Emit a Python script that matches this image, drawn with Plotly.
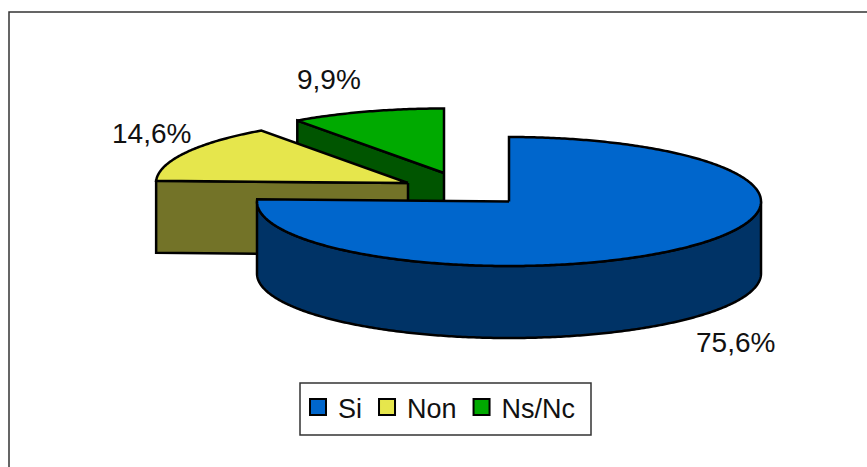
import numpy as np
import plotly.graph_objects as go

categories = ["Si", "Non", "Ns/Nc"]
values = [75.6, 14.6, 9.9]
value_labels = ["75,6%", "14,6%", "9,9%"]

top_colors = ["#0066CC", "#E6E64C", "#00AA00"]
side_colors = ["#003366", "#737328", "#005500"]
apexes = [(509, 201.5), (408, 183), (444, 173)]   # exploded slice apex, px
label_pos = [(735, 342), (151, 133), (329, 79)]
has_cut_face = [False, True, True]
RX, RY, DEPTH = 252, 64.5, 72
FONT = "Liberation Sans, Arial, sans-serif"

fractions = np.array(values) / sum(values)
ends = np.cumsum(fractions) * 2 * np.pi
starts = np.concatenate([[0], ends[:-1]])


def rim(apex, a0, a1):
    t = np.linspace(a0, a1, max(3, int((a1 - a0) * 90)))
    return apex[0] + RX * np.sin(t), apex[1] - RY * np.cos(t)


def poly(x, y, color):
    return go.Scatter(x=list(x) + [x[0]], y=list(y) + [y[0]], mode="lines", fill="toself",
                      fillcolor=color, line=dict(color="black", width=2.5, simplify=False),
                      hoverinfo="skip", showlegend=False)


fig = go.Figure()
# painted back to front: smallest slice first
for i in [2, 1, 0]:
    apex, a0, a1 = apexes[i], starts[i], ends[i]
    if has_cut_face[i]:
        ex = apex[0] + RX * np.sin(a0)
        ey = apex[1] - RY * np.cos(a0)
        fig.add_trace(poly([apex[0], ex, ex, apex[0]],
                           [apex[1], ey, ey + DEPTH, apex[1] + DEPTH], side_colors[i]))
    w0, w1 = max(a0, np.pi / 2), min(a1, 3 * np.pi / 2)
    if w1 > w0:
        wx, wy = rim(apex, w0, w1)
        fig.add_trace(poly(list(wx) + list(wx[::-1]), list(wy) + list(wy[::-1] + DEPTH), side_colors[i]))
    rx, ry = rim(apex, a0, a1)
    fig.add_trace(poly([apex[0]] + list(rx), [apex[1]] + list(ry), top_colors[i]))

for i, c in enumerate(categories):
    fig.add_trace(go.Scatter(x=[None], y=[None], mode="markers", name=c,
                             marker=dict(symbol="square", size=16, color=top_colors[i],
                                         line=dict(color="black", width=2))))

annotations = [dict(x=p[0], y=p[1], text=t, showarrow=False, xanchor="center", yanchor="middle",
                    font=dict(family=FONT, size=28, color="#111111"))
               for p, t in zip(label_pos, value_labels)]

fig.update_layout(
    width=867, height=467, autosize=False,
    margin=dict(l=0, r=0, t=0, b=0),
    paper_bgcolor="white", plot_bgcolor="white",
    xaxis=dict(range=[0, 867], visible=False, fixedrange=True),
    yaxis=dict(range=[467, 0], visible=False, fixedrange=True),
    annotations=annotations,
    legend=dict(orientation="h", x=298 / 867, y=1 - 383 / 467, xanchor="left", yanchor="top",
                bgcolor="rgba(0,0,0,0)", borderwidth=0,
                font=dict(family=FONT, size=27, color="#111111"),
                itemwidth=30, traceorder="normal"),
    shapes=[dict(type="path", path="M 867 12 L 9 12 L 9 467", xref="x", yref="y",
                 line=dict(color="#333333", width=1.5)),
            dict(type="rect", x0=300, x1=591, y0=383, y1=435, xref="x", yref="y",
                 line=dict(color="#333333", width=1.5), fillcolor="white")],
    showlegend=True,
)
fig.write_html("out.html", config={"displayModeBar": False},
               post_script="document.body.style.margin='0';document.documentElement.style.overflow='hidden';")
